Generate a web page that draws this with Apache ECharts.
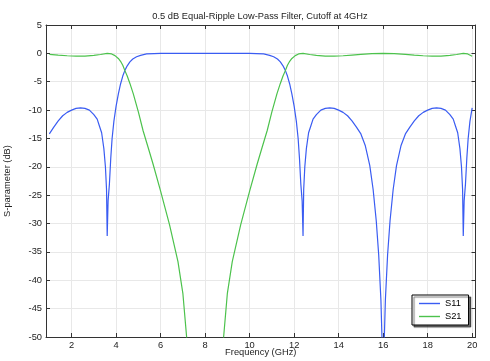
<!DOCTYPE html>
<html>
<head>
<meta charset="utf-8">
<script src="https://cdn.jsdelivr.net/npm/echarts@6/dist/echarts.min.js"></script>
<style>
html,body{margin:0;padding:0;background:#fff;}
#c{width:490px;height:361px;}
</style>
</head>
<body>
<div id="c"></div>
<script>
// ---- data ----
var titleText = '0.5 dB Equal-Ripple Low-Pass Filter, Cutoff at 4GHz';
var xTicks = [2, 4, 6, 8, 10, 12, 14, 16, 18, 20];
var seriesNames = ['S11', 'S21'];

var s11Freq = [1.0,1.2,1.4,1.6,1.8,2.0,2.2,2.4,2.6,2.8,3.0,3.15,3.25,3.35,3.45,3.52,3.57,3.6,3.64,3.7,3.76,3.82,3.9,4.0,4.1,4.2,4.3,4.4,4.5,4.62,4.75,4.92,5.1,5.37,5.7,6.0,8.0,10.0,10.3,10.63,10.9,11.08,11.25,11.38,11.5,11.6,11.7,11.8,11.9,12.0,12.1,12.18,12.24,12.3,12.36,12.4,12.43,12.48,12.55,12.65,12.75,12.85,13.0,13.2,13.4,13.6,13.8,14.0,14.2,14.4,14.6,14.8,15.0,15.2,15.4,15.55,15.69,15.8,15.9,15.95,16.0,16.05,16.1,16.2,16.31,16.45,16.6,16.8,17.0,17.2,17.4,17.6,17.8,18.0,18.2,18.4,18.6,18.8,19.0,19.15,19.25,19.35,19.45,19.52,19.57,19.6,19.64,19.7,19.76,19.82,19.9,20.0];
var s11Db   = [-14.2,-13.0,-11.9,-11.0,-10.4,-10.0,-9.7,-9.6,-9.7,-10.0,-10.8,-11.6,-12.8,-14.0,-16.8,-20.0,-24.0,-32.2,-26.0,-23.0,-18.5,-15.0,-12.0,-9.3,-7.2,-5.4,-4.0,-2.95,-2.2,-1.5,-1.0,-0.6,-0.35,-0.1,-0.03,0,0,0,-0.03,-0.1,-0.35,-0.6,-1.0,-1.5,-2.2,-2.95,-4.0,-5.4,-7.2,-9.3,-12.0,-15.0,-18.5,-23.0,-26.0,-32.2,-24.0,-20.0,-16.8,-14.0,-12.8,-11.6,-10.8,-10.0,-9.7,-9.6,-9.7,-10.0,-10.4,-11.0,-11.9,-13.0,-14.2,-16.3,-19.8,-24.0,-29.5,-35.5,-43.5,-50.5,-90,-50.5,-43.5,-35.5,-29.5,-24.0,-19.8,-16.3,-14.2,-13.0,-11.9,-11.0,-10.4,-10.0,-9.7,-9.6,-9.7,-10.0,-10.8,-11.6,-12.8,-14.0,-16.8,-20.0,-24.0,-32.2,-26.0,-23.0,-18.5,-15.0,-12.0,-9.6];

var s21Freq = [1.0,1.4,1.8,2.2,2.6,3.0,3.3,3.6,3.8,3.95,4.1,4.2,4.3,4.39,4.5,4.62,4.77,5.0,5.21,5.44,5.66,6.0,6.4,6.78,7.0,7.16,7.3,8.0,8.7,8.84,9.0,9.22,9.6,10.0,10.34,10.56,10.79,11.0,11.23,11.38,11.5,11.61,11.7,11.8,11.9,12.05,12.2,12.4,12.7,13.0,13.4,13.8,14.2,14.6,15.0,15.5,16.0,16.5,17.0,17.4,17.8,18.2,18.6,19.0,19.3,19.6,19.8,20.0];
var s21Db   = [-0.17,-0.3,-0.42,-0.5,-0.48,-0.35,-0.2,0,-0.1,-0.4,-0.9,-1.4,-2.1,-3.0,-4.0,-5.3,-7.1,-10.3,-13.6,-16.6,-19.5,-24.3,-30.2,-36.7,-42.3,-49.6,-56,-80,-56,-49.6,-42.3,-36.7,-30.2,-24.3,-19.5,-16.6,-13.6,-10.3,-7.1,-5.3,-4.0,-3.0,-2.1,-1.4,-0.9,-0.4,-0.1,0,-0.2,-0.35,-0.48,-0.5,-0.42,-0.3,-0.17,-0.05,0,-0.05,-0.17,-0.3,-0.42,-0.5,-0.48,-0.35,-0.2,0,-0.1,-0.5];

function zip(a, b) { return a.map(function (v, i) { return [v, b[i]]; }); }

var FONT = 'Liberation Sans, Arial, sans-serif';
var FS = 9.3;
var axisCol = '#333';
var chart = echarts.init(document.getElementById('c'), null, { renderer: 'canvas' });

var xCommon = {
  type: 'value', min: 0.85, max: 20.15,
  axisLine: { show: true, onZero: false, lineStyle: { color: axisCol, width: 1 } },
  axisTick: { show: true, inside: true, length: 4, customValues: xTicks, lineStyle: { color: axisCol } }
};
var yCommon = {
  type: 'value', min: -50, max: 5, interval: 5,
  axisLine: { show: true, onZero: false, lineStyle: { color: axisCol, width: 1 } },
  axisTick: { show: true, inside: true, length: 4, lineStyle: { color: axisCol } }
};

chart.setOption({
  animation: false,
  backgroundColor: '#fff',
  title: {
    text: titleText, left: 260, top: 12, textAlign: 'center', padding: 0,
    textStyle: { fontFamily: FONT, fontSize: FS, fontWeight: 'normal', color: '#222' }
  },
  grid: { left: 46, right: 14.5, top: 25, bottom: 24, containLabel: false, outerBoundsMode: 'none' },
  legend: {
    data: seriesNames, orient: 'vertical', left: 412, top: 295,
    backgroundColor: '#fff', borderColor: '#000', borderWidth: 1,
    shadowColor: 'rgba(0,0,0,0.55)', shadowOffsetX: 2, shadowOffsetY: 2, shadowBlur: 1,
    padding: [3, 7, 3, 7], itemWidth: 21, itemHeight: 1.4, itemGap: 2, borderRadius: 0,
    icon: 'rect',
    textStyle: { fontFamily: FONT, fontSize: FS, color: '#000', lineHeight: 11 }
  },
  xAxis: [
    Object.assign({}, xCommon, {
      position: 'bottom',
      name: 'Frequency (GHz)', nameLocation: 'middle', nameGap: 11, nameMoveOverlap: false,
      nameTextStyle: { fontFamily: FONT, fontSize: FS, color: '#222' },
      axisLabel: { show: true, customValues: xTicks, margin: 4, fontFamily: FONT, fontSize: FS, color: '#222' },
      splitLine: { show: true, lineStyle: { color: '#e8e8e8', width: 1 } }
    }),
    Object.assign({}, xCommon, {
      position: 'top', axisLabel: { show: false }, splitLine: { show: false }
    })
  ],
  yAxis: [
    Object.assign({}, yCommon, {
      position: 'left',
      name: 'S-parameter (dB)', nameLocation: 'middle', nameGap: 34, nameRotate: 90, nameMoveOverlap: false,
      nameTextStyle: { fontFamily: FONT, fontSize: FS, color: '#222' },
      axisLabel: { show: true, margin: 4, fontFamily: FONT, fontSize: FS, color: '#222' },
      splitLine: { show: true, lineStyle: { color: '#e8e8e8', width: 1 } }
    }),
    Object.assign({}, yCommon, {
      position: 'right', axisLabel: { show: false }, splitLine: { show: false }
    })
  ],
  series: [
    {
      name: seriesNames[0], type: 'line', xAxisIndex: 0, yAxisIndex: 0,
      data: zip(s11Freq, s11Db), showSymbol: false, symbol: 'none', smooth: false, clip: true,
      lineStyle: { color: '#3a5cf2', width: 1.2 }, itemStyle: { color: '#3a5cf2' }
    },
    {
      name: seriesNames[1], type: 'line', xAxisIndex: 0, yAxisIndex: 0,
      data: zip(s21Freq, s21Db), showSymbol: false, symbol: 'none', smooth: false, clip: true,
      lineStyle: { color: '#4cc24c', width: 1.2 }, itemStyle: { color: '#4cc24c' }
    }
  ]
});
</script>
</body>
</html>
